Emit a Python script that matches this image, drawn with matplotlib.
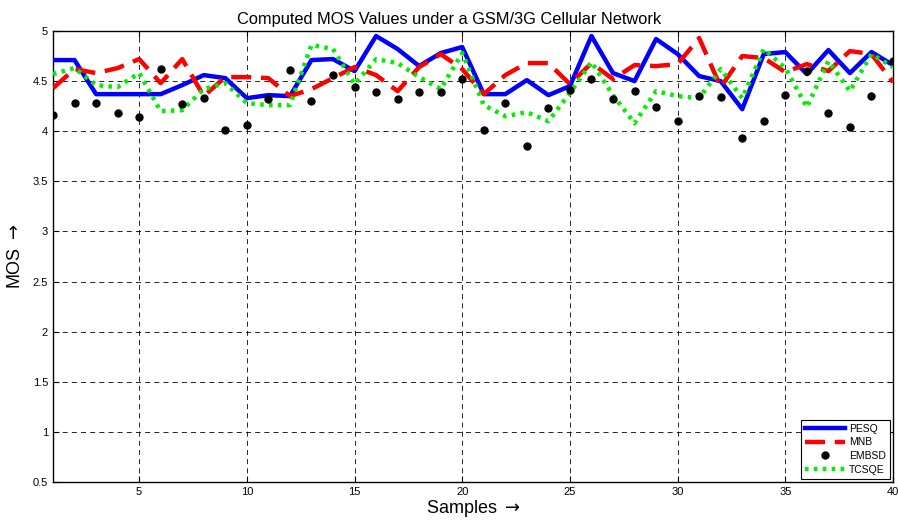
import matplotlib
matplotlib.use("Agg")
import matplotlib.pyplot as plt
import numpy as np

plt.rcParams['font.family'] = ['Liberation Sans', 'DejaVu Sans']

samples = list(range(1, 41))
pesq = [4.71, 4.71, 4.37, 4.37, 4.37, 4.37, 4.46, 4.56, 4.53, 4.33,
        4.36, 4.35, 4.71, 4.72, 4.60, 4.95, 4.82, 4.65, 4.78, 4.84,
        4.37, 4.37, 4.51, 4.36, 4.45, 4.95, 4.58, 4.50, 4.92, 4.77,
        4.55, 4.50, 4.22, 4.77, 4.79, 4.57, 4.81, 4.58, 4.79, 4.66]
mnb = [4.43, 4.62, 4.58, 4.63, 4.72, 4.48, 4.72, 4.35, 4.54, 4.54,
       4.53, 4.35, 4.42, 4.53, 4.64, 4.56, 4.40, 4.64, 4.77, 4.62,
       4.37, 4.56, 4.68, 4.68, 4.47, 4.68, 4.52, 4.66, 4.65, 4.67,
       4.93, 4.44, 4.75, 4.73, 4.59, 4.67, 4.60, 4.80, 4.77, 4.49]
embsd = [4.16, 4.28, 4.28, 4.18, 4.14, 4.62, 4.27, 4.33, 4.01, 4.06,
         4.32, 4.61, 4.30, 4.56, 4.44, 4.39, 4.32, 4.39, 4.39, 4.52,
         4.01, 4.28, 3.85, 4.23, 4.41, 4.52, 4.32, 4.40, 4.24, 4.10,
         4.35, 4.34, 3.93, 4.10, 4.36, 4.60, 4.18, 4.04, 4.35, 4.70]
tcsqe = [4.57, 4.63, 4.46, 4.44, 4.58, 4.20, 4.21, 4.42, 4.48, 4.28,
         4.26, 4.26, 4.86, 4.82, 4.47, 4.72, 4.68, 4.54, 4.42, 4.78,
         4.26, 4.15, 4.19, 4.10, 4.38, 4.69, 4.36, 4.08, 4.40, 4.35,
         4.33, 4.62, 4.33, 4.82, 4.63, 4.24, 4.70, 4.40, 4.77, 4.64]

xticks = [5, 10, 15, 20, 25, 30, 35, 40]
yticks = [0.5, 1, 1.5, 2, 2.5, 3, 3.5, 4, 4.5, 5]

fig = plt.figure(figsize=(8.98, 5.22), dpi=100)
ax = fig.add_axes([53/898, 40/522, 840/898, 451/522])

ax.plot(samples, pesq, color='#0000ff', lw=3.2, ls='-', label='PESQ', zorder=3)
ax.plot(samples, mnb, color='#ff0000', lw=3.2, ls=(0, (4.5, 2.2)), label='MNB', zorder=3)
ax.plot(samples, embsd, color='black', ls='none', marker='o', ms=5, label='EMBSD', zorder=4)
ax.plot(samples, tcsqe, color='#00ee00', lw=3.2, ls=(0, (0.8, 1.2)), label='TCSQE', zorder=3)

ax.set_xlim(1, 40)
ax.set_ylim(0.5, 5)
ax.set_xticks(xticks)
ax.set_yticks(yticks)
ax.set_yticklabels(['0.5', '1', '1.5', '2', '2.5', '3', '3.5', '4', '4.5', '5'])
ax.tick_params(direction='in', labelsize=8, length=4, top=True, right=True)
ax.grid(True, color='black', ls=(0, (6, 5)), lw=0.6)
for s in ax.spines.values():
    s.set_linewidth(1.0)

ax.set_title('Computed MOS Values under a GSM/3G Cellular Network', fontsize=11.8,
             pad=5, x=(449 - 53) / 840)
ax.set_xlabel('Samples $\\rightarrow$', fontsize=13, labelpad=1)
ax.set_ylabel('MOS $\\rightarrow$', fontsize=13, labelpad=6)

leg = ax.legend(loc='lower right', fontsize=7.5, frameon=True, fancybox=False,
                edgecolor='black', framealpha=1, handlelength=3.8,
                borderpad=0.4, labelspacing=0.35, handletextpad=0.4,
                borderaxespad=0.3)
leg.get_frame().set_linewidth(0.8)

fig.savefig('out.png', dpi=100)
